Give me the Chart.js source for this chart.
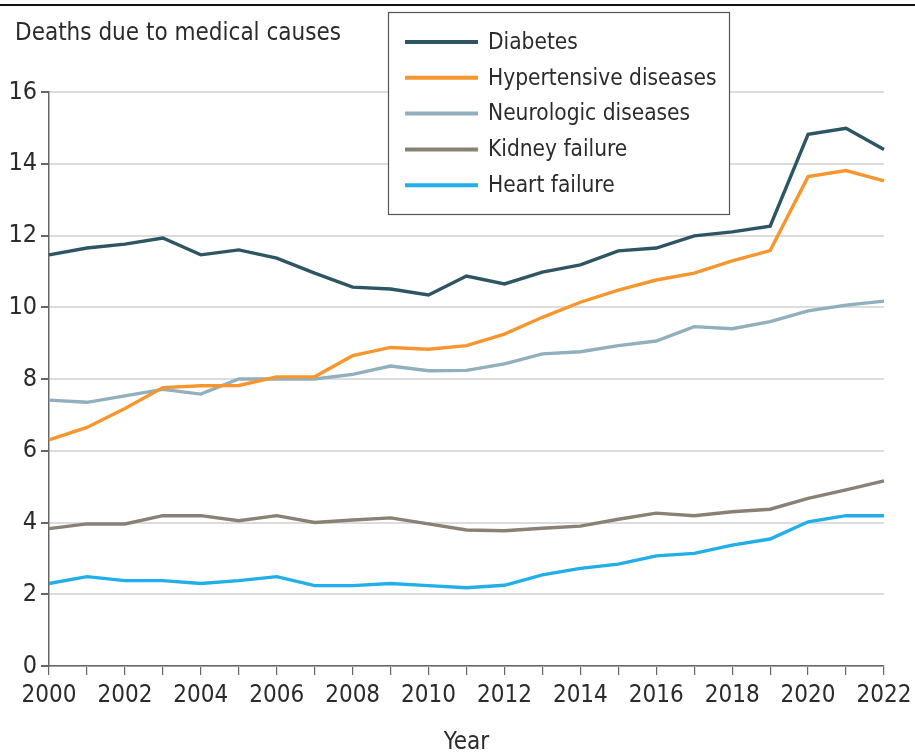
<!DOCTYPE html>
<html>
<head>
<meta charset="utf-8">
<script src="https://cdn.jsdelivr.net/npm/chart.js@4"></script>
<style>
  html, body { margin: 0; padding: 0; background: #fff; }
  #wrap { position: relative; width: 915px; height: 754px; }
</style>
</head>
<body>
<div id="wrap"><canvas id="chart"></canvas></div>
<script>
const years = ['2000', '2001', '2002', '2003', '2004', '2005', '2006', '2007', '2008', '2009', '2010',
  '2011', '2012', '2013', '2014', '2015', '2016', '2017', '2018', '2019', '2020', '2021', '2022'];

const diabetes = [11.46, 11.65, 11.76, 11.93, 11.46, 11.6, 11.37, 10.95, 10.56, 10.51, 10.34,
  10.87, 10.65, 10.98, 11.18, 11.57, 11.65, 11.99, 12.1, 12.26, 14.82, 14.99, 14.4];
const hypertensive = [6.3, 6.65, 7.18, 7.76, 7.81, 7.82, 8.06, 8.06, 8.65, 8.88, 8.83,
  8.93, 9.25, 9.72, 10.14, 10.48, 10.76, 10.95, 11.29, 11.58, 13.64, 13.81, 13.52];
const neurologic = [7.41, 7.35, 7.53, 7.71, 7.58, 8.0, 8.0, 8.0, 8.13, 8.36, 8.23,
  8.24, 8.42, 8.7, 8.76, 8.93, 9.06, 9.46, 9.4, 9.6, 9.9, 10.06, 10.17];
const kidney = [3.83, 3.96, 3.96, 4.19, 4.19, 4.05, 4.19, 4.0, 4.07, 4.13, 3.96,
  3.79, 3.77, 3.84, 3.9, 4.09, 4.26, 4.19, 4.3, 4.37, 4.67, 4.91, 5.16];
const heart = [2.3, 2.49, 2.38, 2.38, 2.3, 2.38, 2.49, 2.24, 2.24, 2.3, 2.24,
  2.18, 2.25, 2.54, 2.72, 2.84, 3.07, 3.14, 3.37, 3.54, 4.02, 4.19, 4.19];

const seriesNames = ['Diabetes', 'Hypertensive diseases', 'Neurologic diseases', 'Kidney failure', 'Heart failure'];
const seriesColors = ['#2d5562', '#f7962e', '#8fb0bc', '#8a8176', '#22aee9'];

const FONT = '"Liberation Sans Narrow", "DejaVu Sans Condensed", "Arial Narrow", sans-serif';
const TEXT = '#2b2b2b';

// top rule + y title
const header = {
  id: 'header',
  beforeDraw(chart) {
    const ctx = chart.ctx;
    ctx.save();
    ctx.strokeStyle = '#111';
    ctx.lineWidth = 2;
    ctx.beginPath();
    ctx.moveTo(0, 5);
    ctx.lineTo(915, 5);
    ctx.stroke();
    ctx.fillStyle = TEXT;
    ctx.font = '24px ' + FONT;
    ctx.textBaseline = 'middle';
    ctx.fillText('Deaths due to medical causes', 15, 34);
    ctx.restore();
  }
};

// boxed legend over the plot
const boxLegend = {
  id: 'boxLegend',
  afterDatasetsDraw(chart) {
    const ctx = chart.ctx;
    ctx.save();
    ctx.fillStyle = '#fff';
    ctx.fillRect(388, 12, 341, 202);
    ctx.strokeStyle = '#555';
    ctx.lineWidth = 1.2;
    ctx.strokeRect(388.5, 12.5, 341, 202);
    ctx.font = '22.5px ' + FONT;
    ctx.textBaseline = 'middle';
    chart.data.datasets.forEach((ds, i) => {
      const y = 42 + i * 35.8;
      ctx.strokeStyle = ds.borderColor;
      ctx.lineWidth = 4;
      ctx.beginPath();
      ctx.moveTo(405, y);
      ctx.lineTo(478, y);
      ctx.stroke();
      ctx.fillStyle = TEXT;
      ctx.fillText(ds.label, 488, y + 1);
    });
    ctx.restore();
  }
};

const values = [diabetes, hypertensive, neurologic, kidney, heart];

new Chart(document.getElementById('chart'), {
  type: 'line',
  data: {
    labels: years,
    datasets: values.map((v, i) => ({
      label: seriesNames[i],
      data: v,
      borderColor: seriesColors[i],
      backgroundColor: seriesColors[i],
      borderWidth: 3.4,
      pointRadius: 0,
      tension: 0,
      order: i
    }))
  },
  options: {
    responsive: true,
    maintainAspectRatio: false,
    animation: false,
    layout: { padding: { top: 92, right: 31, left: 0, bottom: 0 } },
    plugins: {
      legend: { display: false },
      tooltip: { enabled: false }
    },
    scales: {
      x: {
        offset: false,
        afterFit(scale) {
          scale.height = 88;
          scale.paddingLeft = 0;
          scale.paddingRight = 0;
        },
        grid: { drawOnChartArea: false, drawTicks: true, tickLength: 9, tickColor: '#666', lineWidth: 1.2 },
        border: { color: '#666', width: 1.5 },
        ticks: {
          autoSkip: false,
          maxRotation: 0,
          padding: 6,
          color: TEXT,
          font: { family: FONT, size: 24 },
          callback(val, idx) { return idx % 2 === 0 ? years[idx] : ''; }
        },
        title: { display: true, text: 'Year', color: TEXT, font: { family: FONT, size: 24 }, padding: { top: 0, bottom: -3 } }
      },
      y: {
        min: 0,
        max: 16,
        afterFit(scale) { scale.width = 49; },
        grid: { color: '#dcdcdc', lineWidth: 2, drawTicks: true, tickLength: 8, tickColor: '#666' },
        border: { color: '#666', width: 1.5 },
        ticks: {
          stepSize: 2,
          padding: 4,
          color: TEXT,
          font: { family: FONT, size: 25 }
        }
      }
    }
  },
  plugins: [header, boxLegend]
});
</script>
</body>
</html>
